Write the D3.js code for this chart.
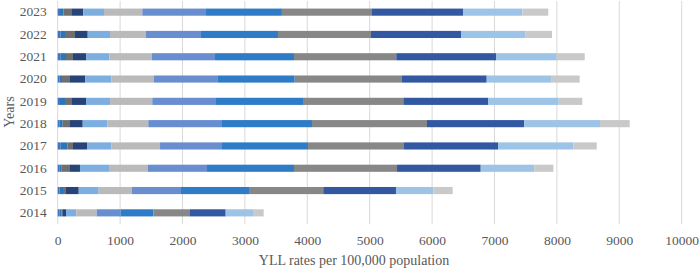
<!DOCTYPE html>
<html>
<head>
<meta charset="utf-8">
<script src="https://cdn.jsdelivr.net/npm/d3@7"></script>
<style>
	body { margin: 0; background: #fff; }
	.tick text { font-family: "Liberation Serif", "Times New Roman", serif; fill: #595959; }
	.axis-title { font-family: "Liberation Serif", "Times New Roman", serif; fill: #595959; }
</style>
</head>
<body>
<svg id="chart" width="699" height="269"></svg>
<script>
// years from bottom to top
var years = ["2014", "2015", "2016", "2017", "2018", "2019", "2020", "2021", "2022", "2023"];
var xTicks = [0, 1000, 2000, 3000, 4000, 5000, 6000, 7000, 8000, 9000, 10000];

// segment values per year, in stack order
var s1  = [32, 32, 26, 48, 32, 37, 32, 42, 48, 37];
var s2  = [26, 53, 38, 106, 48, 80, 37, 91, 69, 53];
var s3  = [16, 48, 122, 91, 106, 101, 128, 112, 160, 128];
var s4  = [59, 204, 171, 225, 215, 236, 245, 214, 204, 192];
var s5  = [165, 320, 465, 389, 394, 384, 417, 368, 357, 332];
var s6  = [327, 534, 625, 781, 657, 678, 684, 684, 572, 614];
var s7  = [385, 785, 946, 993, 1181, 1021, 1015, 1010, 886, 1021];
var s8  = [522, 1090, 1394, 1378, 1442, 1394, 1240, 1266, 1234, 1216];
var s9  = [588, 1190, 1651, 1539, 1843, 1608, 1720, 1639, 1491, 1444];
var s10 = [572, 1165, 1341, 1506, 1560, 1362, 1357, 1598, 1447, 1458];
var s11 = [438, 598, 859, 1207, 1213, 1128, 1042, 973, 1032, 951];
var s12 = [171, 311, 305, 375, 476, 378, 448, 449, 421, 416];

var seriesList = [s1, s2, s3, s4, s5, s6, s7, s8, s9, s10, s11, s12];
var colors = ["#4472C4", "#2E75B6", "#6F6F6F", "#264478", "#7DAEE0", "#BABABA",
              "#698ED0", "#2E7BC8", "#878787", "#3358A2", "#9DC3E6", "#C9C9C9"];

var rows = years.map(function(yr, i) {
	var r = { year: yr };
	seriesList.forEach(function(s, k) { r["s" + k] = s[i]; });
	return r;
});
var keys = seriesList.map(function(s, k) { return "s" + k; });

var svg = d3.select("#chart");
var plotLeft = 57.7, plotRight = 681.7, plotTop = 1, plotBottom = 224;

var x = d3.scaleLinear().domain([0, 10000]).range([plotLeft, plotRight]);
var y = d3.scaleBand().domain(years.slice().reverse()).range([plotTop, plotBottom]).paddingInner(0.68).paddingOuter(0.34);

// vertical gridlines
svg.append("g").selectAll("line").data(xTicks).enter().append("line")
	.attr("x1", function(d) { return x(d); })
	.attr("x2", function(d) { return x(d); })
	.attr("y1", plotTop)
	.attr("y2", plotBottom)
	.attr("stroke", "#d9d9d9")
	.attr("stroke-width", 1);

var stacked = d3.stack().keys(keys)(rows);

svg.append("g").selectAll("g").data(stacked).enter().append("g")
	.attr("fill", function(d, i) { return colors[i]; })
	.selectAll("rect").data(function(d) { return d; }).enter().append("rect")
	.attr("x", function(d) { return x(d[0]); })
	.attr("width", function(d) { return x(d[1]) - x(d[0]); })
	.attr("y", function(d) { return y(d.data.year); })
	.attr("height", y.bandwidth());

var xAxis = svg.append("g")
	.attr("transform", "translate(0," + plotBottom + ")")
	.call(d3.axisBottom(x).tickValues(xTicks).tickFormat(d3.format("d")).tickSize(0).tickPadding(11));
xAxis.select(".domain").remove();
xAxis.selectAll("text").style("font-size", "13.5px");

var yAxis = svg.append("g")
	.attr("transform", "translate(" + plotLeft + ",0)")
	.call(d3.axisLeft(y).tickSize(0).tickPadding(11));
yAxis.select(".domain").remove();
yAxis.selectAll("text").style("font-size", "13.5px");

svg.append("text")
	.attr("class", "axis-title")
	.attr("x", 354)
	.attr("y", 265)
	.attr("text-anchor", "middle")
	.style("font-size", "14px")
	.text("YLL rates per 100,000 population");

svg.append("text")
	.attr("class", "axis-title")
	.attr("transform", "translate(14,112) rotate(-90)")
	.attr("text-anchor", "middle")
	.style("font-size", "14px")
	.text("Years");
</script>
</body>
</html>
